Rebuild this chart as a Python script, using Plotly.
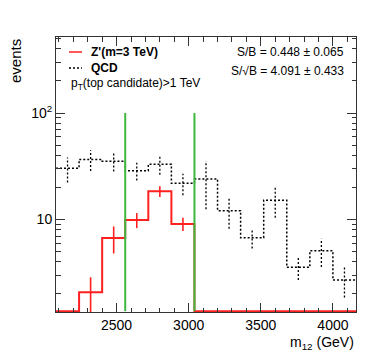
import plotly.graph_objects as go

# ---------------- data ----------------
bin_edges = [2080, 2240, 2400, 2560, 2720, 2880, 3040, 3200, 3360, 3520, 3680, 3840, 4000, 4160]
qcd_events = [30.3, 36.6, 35.2, 28.7, 33.0, 21.9, 24.0, 12.1, 6.74, 15.2, 3.56, 5.09, 2.70]
qcd_errors = [8.0, 8.0, 7.0, 5.5, 6.7, 5.0, 11.5, 3.9, 1.4, 4.8, 0.85, 1.5, 0.85]
zprime_events = [0, 2.07, 6.7, 9.9, 18.4, 9.1, 0, 0, 0, 0, 0, 0, 0]
zprime_errors = [0, 0.8, 1.9, 1.6, 2.1, 1.3, 0, 0, 0, 0, 0, 0, 0]
mass_window = [2560, 3040]
window_top = 100

x_tick_vals = [2500, 3000, 3500, 4000]
x_minor_vals = [v for v in range(2100, 4200, 100) if v not in x_tick_vals]
y_tick_vals = [10, 100]
y_tick_text = ["10", "10<sup>2</sup>"]
y_minor_vals = [2, 3, 4, 5, 6, 7, 8, 9, 20, 30, 40, 50, 60, 70, 80, 90, 200, 300, 400, 500]

x_range = [2080, 4160]
y_range_log = [0.1315, 2.714]
floor = 10 ** (y_range_log[0] + 0.008)

FONT = "Liberation Sans, Arial, Helvetica, sans-serif"
RED = "#ff2020"
GREEN = "#3cb83c"

centers = [(a + b) / 2 for a, b in zip(bin_edges[:-1], bin_edges[1:])]


def step_y(vals):
    v = [max(x, floor) for x in vals]
    return v + [v[-1]]


def err_segments(vals, errs):
    xs, ys = [], []
    for c, v, e in zip(centers, vals, errs):
        if v <= 0:
            continue
        xs += [c, c, None]
        ys += [max(v - e, floor * 0.5), v + e, None]
    return xs, ys


fig = go.Figure()

# QCD histogram (dotted)
fig.add_trace(go.Scatter(x=bin_edges, y=step_y(qcd_events), mode="lines", line_shape="hv",
                         line=dict(color="black", width=1.5, dash="2px,2px"),
                         showlegend=False, hoverinfo="skip"))
qx, qy = err_segments(qcd_events, qcd_errors)
fig.add_trace(go.Scatter(x=qx, y=qy, mode="lines",
                         line=dict(color="black", width=1.3, dash="2px,2px"),
                         showlegend=False, hoverinfo="skip"))

# Z' histogram
fig.add_trace(go.Scatter(x=bin_edges, y=step_y(zprime_events), mode="lines", line_shape="hv",
                         line=dict(color=RED, width=2),
                         showlegend=False, hoverinfo="skip"))
zx, zy = err_segments(zprime_events, zprime_errors)
fig.add_trace(go.Scatter(x=zx, y=zy, mode="lines",
                         line=dict(color=RED, width=1.6),
                         showlegend=False, hoverinfo="skip"))

# mass window lines
gx, gy = [], []
for m in mass_window:
    gx += [m, m, None]
    gy += [floor, window_top, None]
fig.add_trace(go.Scatter(x=gx, y=gy, mode="lines", line=dict(color=GREEN, width=2),
                         showlegend=False, hoverinfo="skip"))

axis_common = dict(showgrid=False, zeroline=False, showline=True, linecolor="#333",
                   linewidth=1, mirror="ticks", ticks="inside", tickcolor="#333",
                   tickfont=dict(family=FONT, size=14, color="black"))

fig.update_xaxes(range=x_range, tickmode="array", tickvals=x_tick_vals, ticklen=9,
                 minor=dict(tickmode="array", tickvals=x_minor_vals, ticklen=4.5,
                            ticks="inside", tickcolor="#333"),
                 **axis_common)
fig.update_yaxes(type="log", range=y_range_log, tickmode="array", tickvals=y_tick_vals,
                 ticktext=y_tick_text, ticklen=9,
                 minor=dict(tickmode="array", tickvals=y_minor_vals, ticklen=4.5,
                            ticks="inside", tickcolor="#333"),
                 **axis_common)

# page body has an 8px margin; lay out in window pixels
OFF = 8
PL, PR, PT, PB = 56, 356, 37, 312
PW, PH = PR - PL, PB - PT


def px(xp):
    return (xp - PL) / PW


def py(yp):
    return (PB - yp) / PH


ann = [
    dict(text="events", x=px(15), y=1.0, xanchor="center", yanchor="top", textangle=-90,
         font=dict(size=15)),
    dict(text="m<sub>12</sub> (GeV)", x=1.0, y=py(343), xanchor="right", yanchor="middle",
         font=dict(size=14)),
    dict(text="<b>Z'(m=3 TeV)</b>", x=px(89), y=py(52), xanchor="left", yanchor="middle",
         font=dict(size=12)),
    dict(text="<b>QCD</b>", x=px(89), y=py(68), xanchor="left", yanchor="middle",
         font=dict(size=12)),
    dict(text="p<sub>T</sub>(top candidate)>1 TeV", x=px(69), y=py(84), xanchor="left",
         yanchor="middle", font=dict(size=12)),
    dict(text="S/B = 0.448 ± 0.065", x=px(346), y=py(52), xanchor="right", yanchor="middle",
         font=dict(size=12)),
    dict(text="S/√B = 4.091 ± 0.433", x=px(346), y=py(71), xanchor="right", yanchor="middle",
         font=dict(size=12)),
]
for a in ann:
    a.update(xref="paper", yref="paper", showarrow=False)
    a["font"].update(family=FONT, color="black")

shapes = [
    dict(type="line", xref="paper", yref="paper", x0=px(69), x1=px(82), y0=py(52), y1=py(52),
         line=dict(color=RED, width=1.5)),
    dict(type="line", xref="paper", yref="paper", x0=px(69), x1=px(82), y0=py(68), y1=py(68),
         line=dict(color="black", width=1.5, dash="2px,2px")),
]

W, H = 374 - OFF, 359 - OFF
fig.update_layout(width=W, height=H,
                  margin=dict(l=PL - OFF, r=374 - PR, t=PT - OFF, b=359 - PB),
                  paper_bgcolor="white", plot_bgcolor="white",
                  annotations=ann, shapes=shapes, showlegend=False,
                  font=dict(family=FONT))

fig.write_html("out.html")
